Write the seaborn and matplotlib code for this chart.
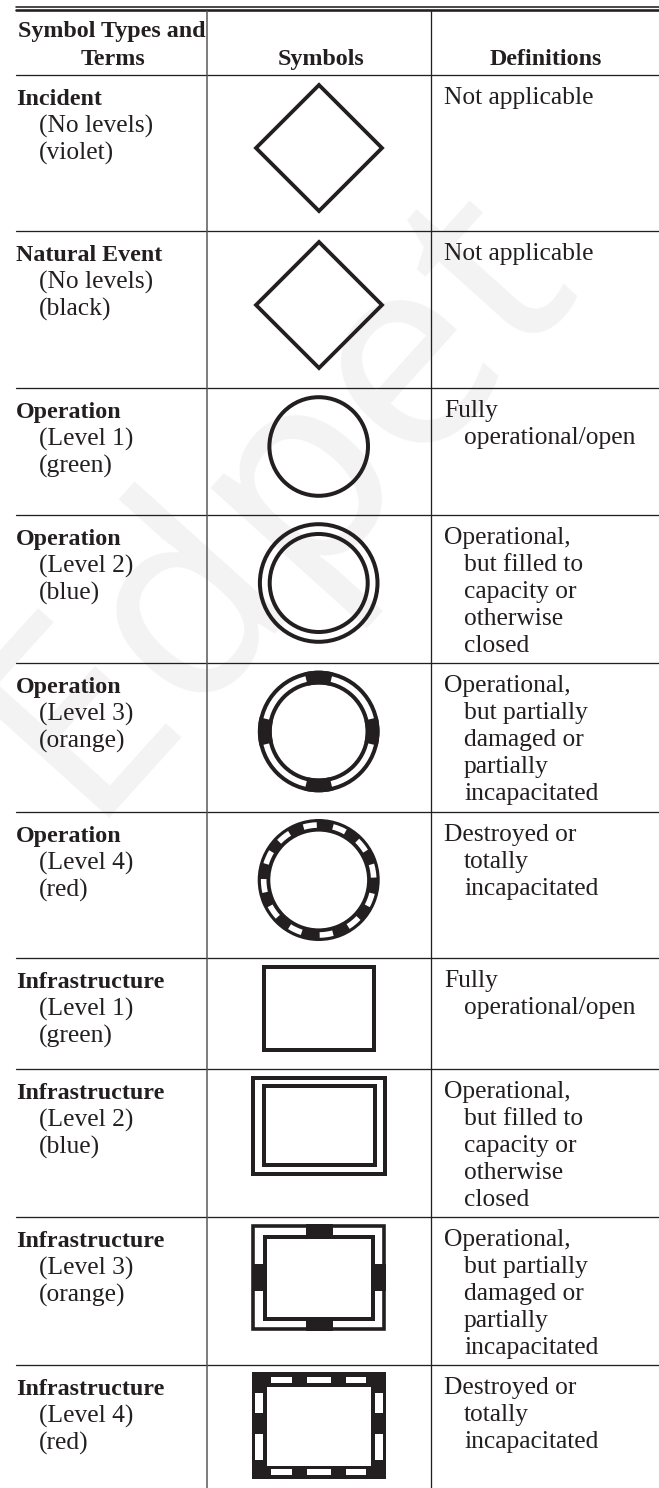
import matplotlib
matplotlib.use("Agg")
import matplotlib.pyplot as plt
from matplotlib.patches import Circle, Rectangle, Polygon, Wedge
import pandas as pd
import seaborn as sns

# ---- table content ----
types = ["Incident", "Natural Event", "Operation", "Operation", "Operation", "Operation",
         "Infrastructure", "Infrastructure", "Infrastructure", "Infrastructure"]
levels = ["(No levels)", "(No levels)", "(Level 1)", "(Level 2)", "(Level 3)", "(Level 4)",
          "(Level 1)", "(Level 2)", "(Level 3)", "(Level 4)"]
colours = ["(violet)", "(black)", "(green)", "(blue)", "(orange)", "(red)",
           "(green)", "(blue)", "(orange)", "(red)"]
definitions = [
    ["Not applicable"],
    ["Not applicable"],
    ["Fully", "operational/open"],
    ["Operational,", "but filled to", "capacity or", "otherwise", "closed"],
    ["Operational,", "but partially", "damaged or", "partially", "incapacitated"],
    ["Destroyed or", "totally", "incapacitated"],
    ["Fully", "operational/open"],
    ["Operational,", "but filled to", "capacity or", "otherwise", "closed"],
    ["Operational,", "but partially", "damaged or", "partially", "incapacitated"],
    ["Destroyed or", "totally", "incapacitated"],
]
row_tops = [75, 231, 388, 515, 663, 812, 958, 1069, 1217, 1365]
col_edges = [207, 431]
dash_angles = [99, 68, 38.6, 9.5, -21, -50.7, -82, -115, -145, -174, 156, 129]

W, H = 659, 1488
INK = "#231f20"
SERIF = ["Liberation Serif", "DejaVu Serif"]
sns.set_theme(style="white")
plt.rcParams["font.family"] = SERIF

fig = plt.figure(figsize=(W / 100, H / 100), dpi=100, facecolor="white")
ax = fig.add_axes([0, 0, 1, 1])
ax.set_xlim(0, W)
ax.set_ylim(H, 0)
ax.axis("off")

# watermark
ax.text(277, 498, "Edpet", rotation=48, fontsize=195, color="#f3f3f3", ha="center", va="center",
        family="Noto Sans", zorder=0, rotation_mode="anchor")


def rule(xs, ys, lw, color=INK):
    sns.lineplot(data=pd.DataFrame({"x": xs, "y": ys}), x="x", y="y", ax=ax, color=color,
                 linewidth=lw * 0.72, estimator=None, sort=False, zorder=2)


rule([16, W], [6.5, 6.5], 1.6)
rule([16, W], [9.8, 9.8], 2.6)
for top in row_tops:
    rule([16, W], [top, top], 1.3)
rule([col_edges[0]] * 2, [11, H], 1.5, "#555555")
rule([col_edges[1]] * 2, [11, H], 1.3)

PX = 0.72
BODY = 25.5 * PX


def txt(x, y, s, **kw):
    ax.text(x, y, s, fontsize=kw.pop("fs", BODY), color=INK, va="baseline", zorder=4, **kw)


txt(112, 37, "Symbol Types and", ha="center", fontweight="bold", fs=24 * PX)
txt(113, 65, "Terms", ha="center", fontweight="bold", fs=24 * PX)
txt(321, 65, "Symbols", ha="center", fontweight="bold", fs=24 * PX)
txt(546, 65, "Definitions", ha="center", fontweight="bold", fs=24 * PX)

for top, t, l, c, d in zip(row_tops, types, levels, colours, definitions):
    txt(16, top + 30, t, fontweight="bold", fs=24 * PX)
    txt(39, top + 58, l)
    txt(39, top + 85, c)
    for i, line in enumerate(d):
        txt(444 if i == 0 else 464, top + 29 + i * 27, line)


def ring(cx, cy, r, lw=4.0):
    ax.add_patch(Circle((cx, cy), r, fill=False, ec=INK, lw=lw * PX, zorder=3))


def box(x0, y0, x1, y1, lw=4.0):
    h = lw / 2
    ax.add_patch(Rectangle((x0 + h, y0 + h), x1 - x0 - lw, y1 - y0 - lw, fill=False, ec=INK,
                           lw=lw * PX, joinstyle="miter", zorder=3))


def solid(x0, y0, x1, y1, fc=INK):
    ax.add_patch(Rectangle((x0, y0), x1 - x0, y1 - y0, fc=fc, ec="none", zorder=3))


# diamonds
for cy in (148, 305):
    ax.add_patch(Polygon([(319, cy - 63), (382, cy), (319, cy + 63), (256, cy)], closed=True,
                         fill=False, ec=INK, lw=3.8 * PX, joinstyle="miter", zorder=3))

CX = 318.7
# operation circles
ring(CX, 446.5, 49.3)
ring(CX, 583, 58.8); ring(CX, 583, 49)
ring(CX, 731.5, 58.8); ring(CX, 731.5, 49)
for a in (0, 90, 180, 270):
    ax.add_patch(Wedge((CX, 731.5), 60.8, a - 13.5, a + 13.5, width=13.8, fc=INK, ec="none", zorder=3))
ax.add_patch(Wedge((CX, 880), 61, 0, 360, width=12.6, fc=INK, ec="none", zorder=3))
for a in dash_angles:
    ax.add_patch(Wedge((CX, 880), 57.8, -a - 7, -a + 7, width=5.6, fc="white", ec="none", zorder=3.5))

# infrastructure rectangles
box(262, 965, 376, 1052)
box(251, 1076, 387, 1176)
box(262, 1084, 377, 1167)
box(251.5, 1224, 386, 1331, 3.6)
box(263, 1235, 375, 1321)
for v in ((306, 1224, 333, 1239), (306, 1317, 333, 1331), (251.5, 1264, 267, 1291), (371, 1264, 386, 1291)):
    solid(*v)
solid(251.5, 1372, 386, 1479)
solid(266.7, 1386.7, 371, 1465.7, "white")
for x0, x1 in ((271, 292), (307, 331), (346, 366)):
    solid(x0, 1376.7, x1, 1383.3, "white")
    solid(x0, 1469.3, x1, 1475.3, "white")
for y0, y1 in ((1392.7, 1412.7), (1434, 1460)):
    solid(255, y0, 262.7, y1, "white")
    solid(374.7, y0, 382.7, y1, "white")

fig.savefig("out.png", dpi=100, facecolor="white")
